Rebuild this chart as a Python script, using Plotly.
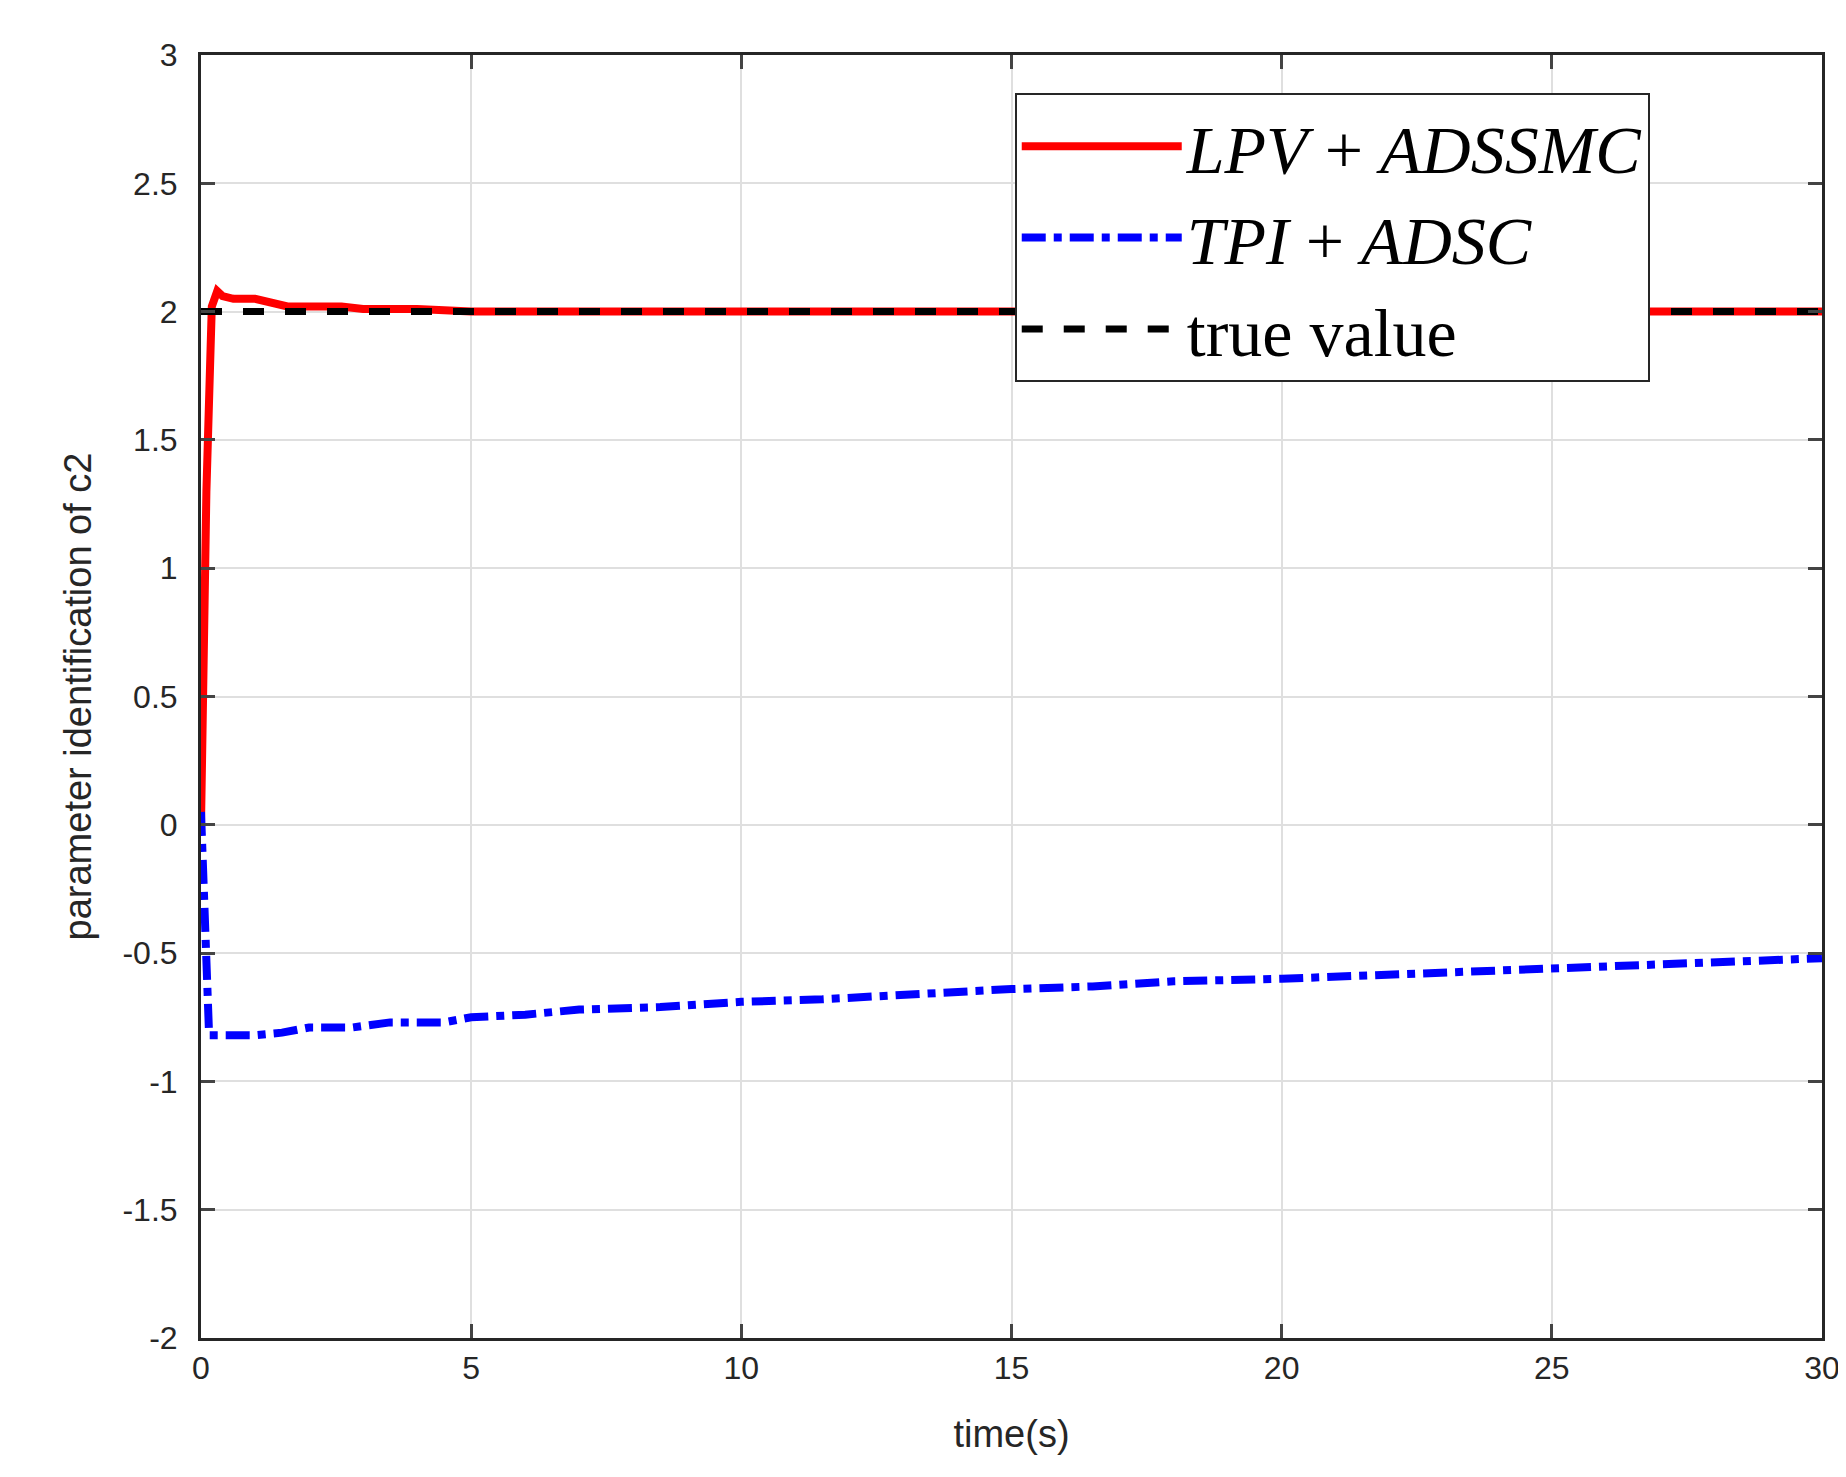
import plotly.graph_objects as go

t_red = [0, 0.1, 0.2, 0.3, 0.4, 0.6, 1.0, 1.2, 1.6, 2.0, 2.6, 3.0, 4.0, 5.0, 7.0, 10, 15, 20, 25, 30]
c2_red = [0.0, 1.3, 2.02, 2.08, 2.06, 2.05, 2.05, 2.04, 2.02, 2.02, 2.02, 2.01, 2.01, 2.0, 2.0, 2.0, 2.0, 2.0, 2.0, 2.0]
t_blue = [0, 0.05, 0.1, 0.15, 0.3, 1.0, 1.5, 2.0, 2.8, 3.5, 4.5, 5.0, 6.0, 7.0, 8.5, 10, 11.5, 13, 15, 16.5, 18, 20, 22, 23.5, 25, 26.5, 28, 30]
c2_blue = [0.05, -0.3, -0.7, -0.82, -0.82, -0.82, -0.81, -0.79, -0.79, -0.77, -0.77, -0.75, -0.74, -0.72, -0.71, -0.69, -0.68, -0.66, -0.64, -0.63, -0.61, -0.6, -0.585, -0.575, -0.56, -0.55, -0.54, -0.52]
t_true = [0, 30]
c2_true = [2, 2]

fig = go.Figure()
fig.add_trace(go.Scatter(x=t_red, y=c2_red, mode="lines", name="<i>LPV</i> + <i>ADSSMC</i>",
                         line=dict(color="#ff0000", width=8)))
fig.add_trace(go.Scatter(x=t_blue, y=c2_blue, mode="lines", name="<i>TPI</i> + <i>ADSC</i>",
                         line=dict(color="#0000ff", width=8, dash="dashdot")))
fig.add_trace(go.Scatter(x=t_true, y=c2_true, mode="lines", name="true value",
                         line=dict(color="#000000", width=7, dash="dash")))
fig.update_layout(
    width=1846, height=1477, plot_bgcolor="white", paper_bgcolor="white",
    margin=dict(l=193, r=32, t=47, b=147),
    font=dict(family="Arial, Liberation Sans", size=32, color="#262626"),
    legend=dict(x=0.502, y=0.97, xanchor="left", yanchor="top", traceorder="normal",
                bgcolor="white", bordercolor="#262626", borderwidth=2,
                font=dict(family="Liberation Serif", size=68, color="#000"),
                itemwidth=160),
    xaxis=dict(range=[0, 30], tickvals=[0, 5, 10, 15, 20, 25, 30], showgrid=True, gridcolor="#dfdfdf", gridwidth=2,
               showline=True, linecolor="#262626", linewidth=3, mirror="ticks", ticks="inside", ticklen=14, tickwidth=3,
               zeroline=False, title=dict(text="time(s)", standoff=35)),
    yaxis=dict(range=[-2, 3], tickvals=[-2, -1.5, -1, -0.5, 0, 0.5, 1, 1.5, 2, 2.5, 3],
               ticktext=["-2", "-1.5", "-1", "-0.5", "0", "0.5", "1", "1.5", "2", "2.5", "3"],
               showgrid=True, gridcolor="#dfdfdf", gridwidth=2, ticklabelstandoff=14,
               showline=True, linecolor="#262626", linewidth=3, mirror="ticks", ticks="inside", ticklen=14, tickwidth=3,
               zeroline=False, title=dict(text="parameter identification of c2", standoff=20)),
)
fig.write_html("out.html")
